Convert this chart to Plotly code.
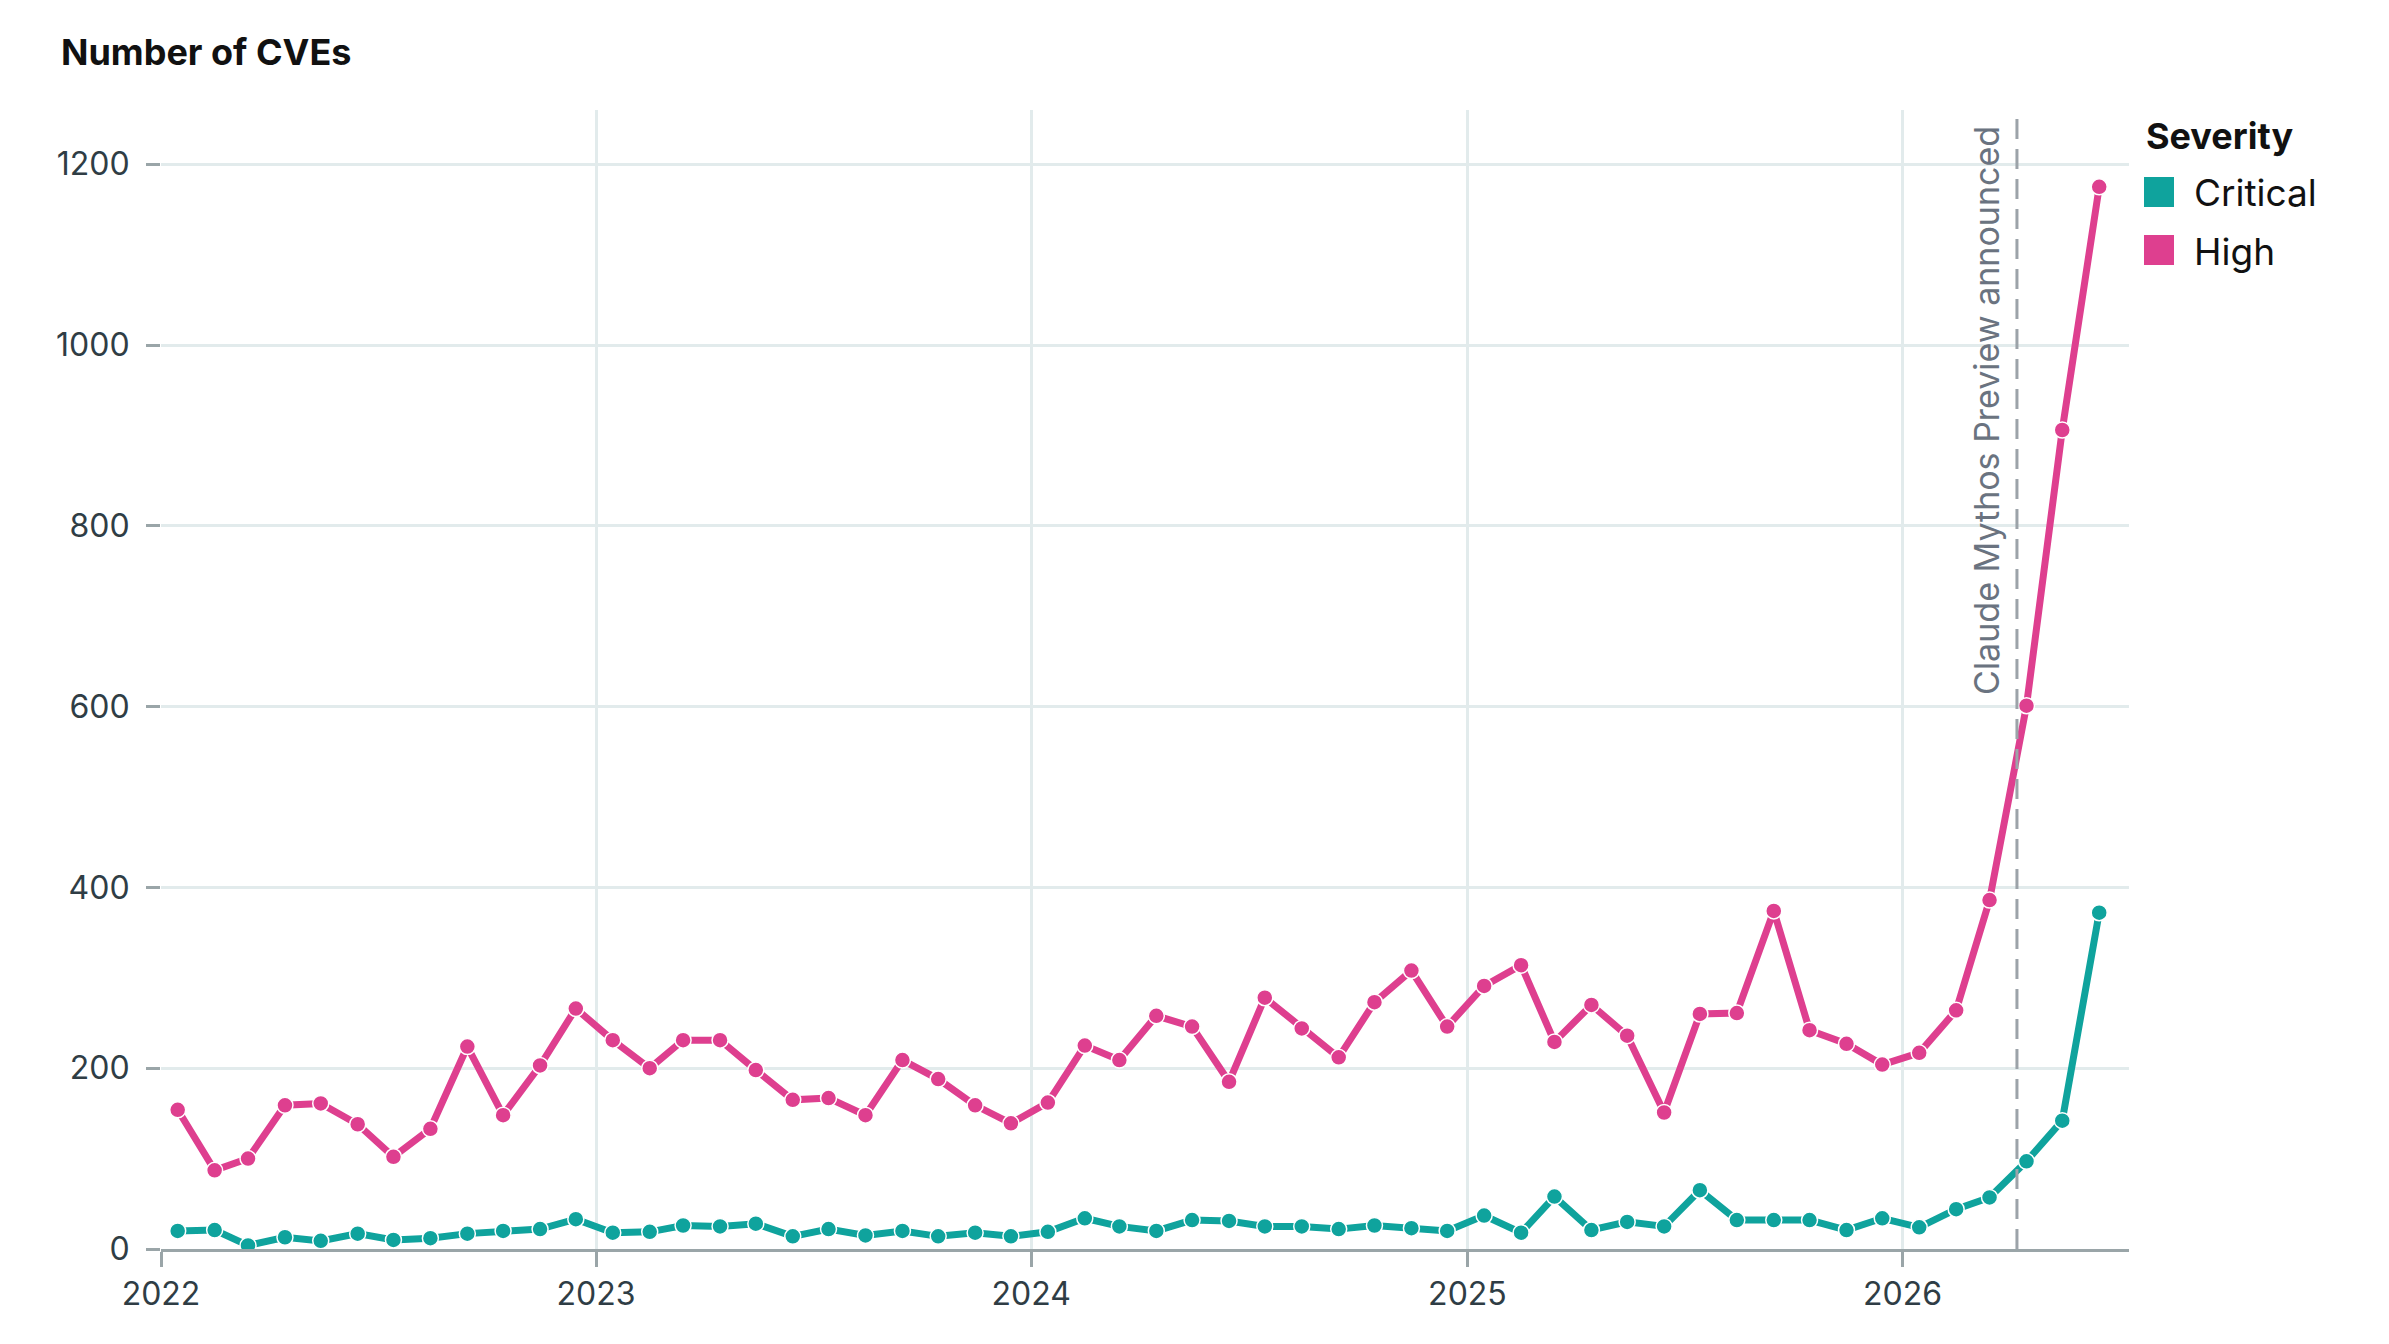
import plotly.graph_objects as go
import pandas as pd

# Monthly CVE counts, Jan 2022 .. Jun 2026 (points sit mid-month)
months = pd.date_range("2022-01-01", "2026-06-01", freq="MS") + pd.Timedelta(days=14)

high = [
    154, 87, 100, 159, 161, 138, 102, 133, 224, 148, 203, 266,   # 2022
    231, 200, 231, 231, 198, 165, 167, 148, 209, 188, 159, 139,  # 2023
    162, 225, 209, 258, 246, 185, 278, 244, 212, 273, 308, 246,  # 2024
    291, 314, 229, 270, 236, 151, 260, 261, 374, 242, 227, 204,  # 2025
    217, 264, 386, 601, 906, 1175,                               # 2026
]
critical = [
    20, 21, 4, 13, 9, 17, 10, 12, 17, 20, 22, 33,
    18, 19, 26, 25, 28, 14, 22, 15, 20, 14, 18, 14,
    19, 34, 25, 20, 32, 31, 25, 25, 22, 26, 23, 20,
    37, 18, 58, 21, 30, 25, 65, 32, 32, 32, 21, 34,
    24, 44, 57, 97, 142, 372,
]

series = ["Critical", "High"]
colors = {"Critical": "#0fa39d", "High": "#de3f8f"}
values = {"Critical": critical, "High": high}

announce_date = "2026-04-07"
announce_text = "Claude Mythos Preview announced"

year_ticks = ["2022-01-01", "2023-01-01", "2024-01-01", "2025-01-01", "2026-01-01"]
year_labels = ["2022", "2023", "2024", "2025", "2026"]
y_ticks = [0, 200, 400, 600, 800, 1000, 1200]

font_family = "Inter, 'Noto Sans', sans-serif"
tick_color = "#2f3d45"
grid_color = "#e2ebec"
axis_color = "#9aa5a8"

fig = go.Figure()

for name in series:
    fig.add_trace(go.Scatter(
        x=months,
        y=values[name],
        mode="lines+markers",
        name=name,
        line=dict(color=colors[name], width=7),
        marker=dict(size=16, color=colors[name], line=dict(color="white", width=1.5)),
        showlegend=False,
    ))

# announcement marker
fig.add_shape(
    type="line", xref="x", yref="paper",
    x0=announce_date, x1=announce_date, y0=0, y1=1,
    line=dict(color="#9ca3a9", width=3, dash="20px,10px"),
)
fig.add_annotation(
    x=announce_date, y=1, xref="x", yref="paper",
    text=announce_text, textangle=-90,
    xanchor="right", yanchor="top", xshift=-8, yshift=-14,
    showarrow=False,
    font=dict(family=font_family, size=34, color="#6a7380"),
)

# chart title (top-left)
fig.add_annotation(
    x=0, y=1, xref="paper", yref="paper",
    xanchor="left", yanchor="middle", xshift=-102, yshift=58,
    text="<b>Number of CVEs</b>", showarrow=False,
    font=dict(family=font_family, size=36, color="#111111"),
)

# hand-made legend with big square swatches
fig.add_annotation(
    x=1, y=1, xref="paper", yref="paper",
    xanchor="left", yanchor="middle", xshift=15, yshift=-26,
    text="<b>Severity</b>", showarrow=False,
    font=dict(family=font_family, size=36, color="#111111"),
)
legend_rows = {"Critical": (-97, -67, -82), "High": (-155, -125, -141)}
for name in series:
    y0, y1, ytxt = legend_rows[name]
    fig.add_shape(
        type="rect", xref="paper", yref="paper",
        xsizemode="pixel", ysizemode="pixel", xanchor=1, yanchor=1,
        x0=15, x1=45, y0=y0, y1=y1,
        fillcolor=colors[name], line=dict(width=0),
    )
    fig.add_annotation(
        x=1, y=1, xref="paper", yref="paper",
        xanchor="left", yanchor="middle", xshift=63, yshift=ytxt,
        text=name, showarrow=False,
        font=dict(family=font_family, size=37, color="#111111"),
    )

fig.update_layout(
    width=2381,
    height=1336,
    paper_bgcolor="white",
    plot_bgcolor="white",
    margin=dict(l=153, r=260, t=102, b=95),
    font=dict(family=font_family, color=tick_color),
    showlegend=False,
    xaxis=dict(
        type="date",
        range=["2022-01-01", "2026-07-10"],
        tickvals=year_ticks,
        ticktext=year_labels,
        showgrid=True,
        gridcolor=grid_color,
        gridwidth=2.5,
        zeroline=False,
        showline=True,
        linecolor=axis_color,
        linewidth=3,
        ticks="outside",
        ticklen=15,
        tickwidth=3,
        tickcolor=axis_color,
        tickfont=dict(size=32, color=tick_color),
    ),
    yaxis=dict(
        range=[0, 1260],
        tickvals=y_ticks,
        showgrid=True,
        gridcolor=grid_color,
        gridwidth=2.5,
        zeroline=False,
        showline=False,
        ticks="outside",
        ticklen=14,
        tickwidth=3,
        tickcolor=axis_color,
        ticklabelstandoff=10,
        tickfont=dict(size=32, color=tick_color),
    ),
)

fig.write_html("out.html")
